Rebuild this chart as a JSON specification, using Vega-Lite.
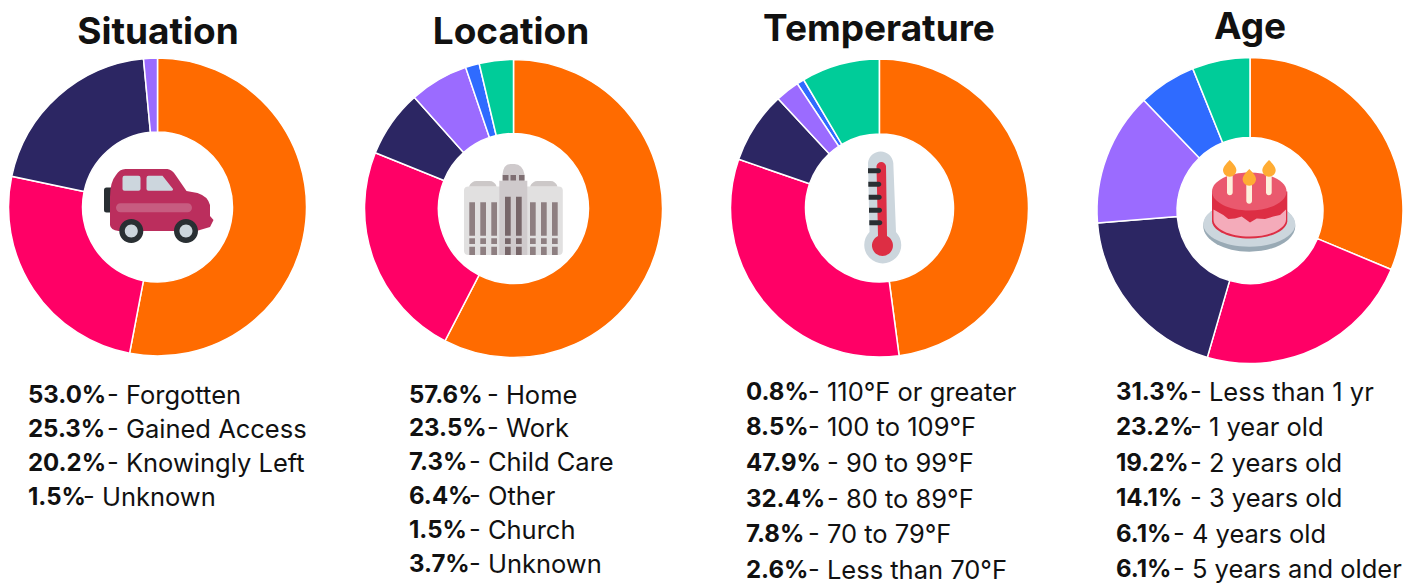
{"$schema":"https://vega.github.io/schema/vega-lite/v6.json","padding":0,"spacing":0,"bounds":"flush","background":"white",
"config":{"view":{"stroke":null},"concat":{"spacing":0},"text":{"font":"Inter","fontSize":25.5,"color":"#111111","align":"left","baseline":"middle"},"arc":{"stroke":"#ffffff","strokeWidth":1.5},"point":{"filled":true,"opacity":1,"size":4,"strokeWidth":0}},
"datasets":{
"situation":[{"slice":1,"line":1,"label":"- Forgotten","share":0.53},{"slice":2,"line":2,"label":"- Gained Access","share":0.253},{"slice":3,"line":3,"label":"- Knowingly Left","share":0.202},{"slice":4,"line":4,"label":"- Unknown","share":0.015}],
"location":[{"slice":1,"line":1,"label":"- Home","share":0.576},{"slice":2,"line":2,"label":"- Work","share":0.235},{"slice":3,"line":3,"label":"- Child Care","share":0.073},{"slice":4,"line":4,"label":"- Other","share":0.064},{"slice":5,"line":5,"label":"- Church","share":0.015},{"slice":6,"line":6,"label":"- Unknown","share":0.037}],
"temperature":[{"slice":5,"line":1,"label":"- 110°F or greater","share":0.008},{"slice":6,"line":2,"label":"- 100 to 109°F","share":0.085},{"slice":1,"line":3,"label":"- 90 to 99°F","share":0.479},{"slice":2,"line":4,"label":"- 80 to 89°F","share":0.324},{"slice":3,"line":5,"label":"- 70 to 79°F","share":0.078},{"slice":4,"line":6,"label":"- Less than 70°F","share":0.026}],
"age":[{"slice":1,"line":1,"label":"- Less than 1 yr","share":0.313},{"slice":2,"line":2,"label":"- 1 year old","share":0.232},{"slice":3,"line":3,"label":"- 2 years old","share":0.192},{"slice":4,"line":4,"label":"- 3 years old","share":0.141},{"slice":5,"line":5,"label":"- 4 years old","share":0.061},{"slice":6,"line":6,"label":"- 5 years and older","share":0.061}]
},
"hconcat":[
{"width":340,"height":583,"data":{"name":"situation"},"layer":[
{"mark":{"type":"arc","outerRadius":149,"innerRadius":75},"encoding":{"x":{"value":157.5},"y":{"value":207},"theta":{"field":"share","type":"quantitative","stack":true},"order":{"field":"slice","type":"ordinal"},"color":{"field":"slice","type":"ordinal","legend":null,"scale":{"domain":[1,2,3,4,5,6],"range":["#FF6B00","#FF0066","#2C2663","#9B6BFF","#2F6BFF","#00CC99"]}}}},
{"data":{"values":[{}]},"encoding":{"x":{"value":157.5},"y":{"value":207}},"layer":[
{"mark":{"type":"point","color":"#292F33","shape":"M-53.5 -17Q-53.5 -19.5 -51 -19.5L-45 -19.5L-45 5.5L-51 5.5Q-53.5 5.5 -53.5 3Z"}},
{"mark":{"type":"point","color":"#BB2E5D","shape":"M-47.5 18L-47.5 -10Q-47.5 -25 -41.5 -32Q-38 -38 -32 -38L10 -38Q15 -37 18 -32L29 -16L40 -14Q50 -11 52.5 -2L52.5 9L56 13L52.5 20L39 24L-39 24Q-47 23 -47.5 18Z"}},
{"mark":{"type":"point","color":"#CCD6DD","shape":"M-35 -29Q-35 -31.3 -33 -31.3L-19 -31.3Q-17 -31.3 -17 -29L-17 -18Q-17 -16.3 -19 -16.3L-33 -16.3Q-35 -16.3 -35 -18ZM-11 -29Q-11 -31.3 -9 -31.3L5 -31.3L15.5 -18Q16 -16.3 14 -16.3L-9 -16.3Q-11 -16.3 -11 -18Z"}},
{"mark":{"type":"point","color":"#C75C80","shape":"M-37 -3.7L30 -3.7A4.5 4.5 0 0 1 30 5.3L-37 5.3A4.5 4.5 0 0 1 -37 -3.7Z"}},
{"mark":{"type":"point","color":"#292F33","shape":"M-38.2 24A12 12 0 1 0 -14.2 24A12 12 0 1 0 -38.2 24ZM16.5 24A12 12 0 1 0 40.5 24A12 12 0 1 0 16.5 24Z"}},
{"mark":{"type":"point","color":"#CCD6DD","shape":"M-32.7 24A6.5 6.5 0 1 0 -19.7 24A6.5 6.5 0 1 0 -32.7 24ZM22 24A6.5 6.5 0 1 0 35 24A6.5 6.5 0 1 0 22 24Z"}}
]},
{"data":{"values":[{"heading":"Situation"}]},"mark":{"type":"text","align":"center","fontSize":37,"fontWeight":"bold"},"encoding":{"x":{"value":158},"y":{"value":32.5},"text":{"field":"heading"}}},
{"mark":{"type":"text","fontWeight":"bold","fontSize":24},"encoding":{"x":{"value":28},"y":{"field":"line","type":"ordinal","axis":null,"scale":{"type":"point","padding":0,"range":[395.5,497.5]}},"text":{"field":"share","format":".1%"}}},
{"transform":[{"filter":"datum.share>=0.1"}],"mark":"text","encoding":{"x":{"value":107},"y":{"field":"line","type":"ordinal"},"text":{"field":"label"}}},
{"transform":[{"filter":"datum.share<0.1"}],"mark":"text","encoding":{"x":{"value":83},"y":{"field":"line","type":"ordinal"},"text":{"field":"label"}}}
]},
{"width":370,"height":583,"data":{"name":"location"},"layer":[
{"mark":{"type":"arc","outerRadius":149,"innerRadius":75},"encoding":{"x":{"value":173.5},"y":{"value":208.5},"theta":{"field":"share","type":"quantitative","stack":true},"order":{"field":"slice","type":"ordinal"},"color":{"field":"slice","type":"ordinal","legend":null,"scale":{"domain":[1,2,3,4,5,6],"range":["#FF6B00","#FF0066","#2C2663","#9B6BFF","#2F6BFF","#00CC99"]}}}},
{"data":{"values":[{}]},"encoding":{"x":{"value":173.5},"y":{"value":208.5}},"layer":[
{"mark":{"type":"point","color":"#E1E0E0","shape":"M-49.5 -18Q-49.5 -22 -45 -22L45 -22Q49.3 -22 49.3 -18L49.3 42Q49.3 46.5 45 46.5L-45 46.5Q-49.5 46.5 -49.5 42Z"}},
{"mark":{"type":"point","color":"#CCC8C8","shape":"M-44.5 -22Q-42 -27.5 -37 -27.5L-24 -27.5Q-19 -27.5 -16.8 -22ZM16.5 -22Q19 -27.5 24 -27.5L37 -27.5Q42 -27.5 44 -22Z"}},
{"mark":{"type":"point","color":"#CFCACC","shape":"M-14.2 -27.8L-11 -27.8L-11 -34Q-10 -44.5 -3 -44.5L1 -44.5Q9 -44.5 11 -34L11 -27.8L13.8 -27.8L13.8 46.5L-14.2 46.5Z"}},
{"mark":{"type":"point","color":"#7E6E72","shape":"M-10.8 -33.5H-5V-28H-10.8ZM-3 -33.5H2.5V-28H-3ZM5.5 -33.5H11V-28H5.5Z"}},
{"mark":{"type":"point","color":"#8E7F81","shape":"M-44.2 -6.2H-38.5V27.2H-44.2ZM-44.2 29.8H-38.5V35.5H-44.2ZM-44.2 38.2H-38.5V46.5H-44.2ZM-33.2 -6.2H-27.5V27.2H-33.2ZM-33.2 29.8H-27.5V35.5H-33.2ZM-33.2 38.2H-27.5V46.5H-33.2ZM-22.2 -6.2H-16.5V27.2H-22.2ZM-22.2 29.8H-16.5V35.5H-22.2ZM-22.2 38.2H-16.5V46.5H-22.2ZM16.5 -6.2H22.2V27.2H16.5ZM16.5 29.8H22.2V35.5H16.5ZM16.5 38.2H22.2V46.5H16.5ZM27.5 -6.2H33.2V27.2H27.5ZM27.5 29.8H33.2V35.5H27.5ZM27.5 38.2H33.2V46.5H27.5ZM38.5 -6.2H44.2V27.2H38.5ZM38.5 29.8H44.2V35.5H38.5ZM38.5 38.2H44.2V46.5H38.5Z"}},
{"mark":{"type":"point","color":"#776669","shape":"M-8.5 -11.8H-2.8V27.2H-8.5ZM-8.5 29.8H-2.8V35.5H-8.5ZM-8.5 38.2H-2.8V46.5H-8.5ZM2.5 -11.8H8.2V27.2H2.5ZM2.5 29.8H8.2V35.5H2.5ZM2.5 38.2H8.2V46.5H2.5Z"}}
]},
{"data":{"values":[{"heading":"Location"}]},"mark":{"type":"text","align":"center","fontSize":37,"fontWeight":"bold"},"encoding":{"x":{"value":171},"y":{"value":32.5},"text":{"field":"heading"}}},
{"mark":{"type":"text","fontWeight":"bold","fontSize":24},"encoding":{"x":{"value":69},"y":{"field":"line","type":"ordinal","axis":null,"scale":{"type":"point","padding":0,"range":[395.5,564.5]}},"text":{"field":"share","format":".1%"}}},
{"transform":[{"filter":"datum.share>=0.1"}],"mark":"text","encoding":{"x":{"value":147},"y":{"field":"line","type":"ordinal"},"text":{"field":"label"}}},
{"transform":[{"filter":"datum.share<0.1"}],"mark":"text","encoding":{"x":{"value":129},"y":{"field":"line","type":"ordinal"},"text":{"field":"label"}}}
]},
{"width":370,"height":583,"data":{"name":"temperature"},"layer":[
{"mark":{"type":"arc","outerRadius":149,"innerRadius":74},"encoding":{"x":{"value":169.5},"y":{"value":208},"theta":{"field":"share","type":"quantitative","stack":true},"order":{"field":"slice","type":"ordinal"},"color":{"field":"slice","type":"ordinal","legend":null,"scale":{"domain":[1,2,3,4,5,6],"range":["#FF6B00","#FF0066","#2C2663","#9B6BFF","#2F6BFF","#00CC99"]}}}},
{"data":{"values":[{}]},"encoding":{"x":{"value":169.5},"y":{"value":208}},"layer":[
{"mark":{"type":"point","color":"#CCD6DD","shape":"M-11.5 -45A12.7 12.7 0 0 1 13.8 -45L16.5 24A18.5 18.5 0 1 1 -10 24Z"}},
{"mark":{"type":"point","color":"#DD2E44","shape":"M-3 -42A4.8 4.8 0 0 1 6.5 -42L7.5 28A10.5 10.5 0 1 1 -1.5 28Z"}},
{"mark":{"type":"point","color":"#292F33","shape":"M-11.5 -39.7H-1A2.5 2.5 0 0 1 -1 -34.7H-11.5ZM-11.2 -26.3H-.7A2.5 2.5 0 0 1 -.7 -21.3H-11.2ZM-10.8 -13.3H-.3A2.5 2.5 0 0 1 -.3 -8.3H-10.8ZM-10.5 -.3H0A2.5 2.5 0 0 1 0 4.7H-10.5ZM-10.2 12.3H.3A2.5 2.5 0 0 1 .3 17.3H-10.2Z"}}
]},
{"data":{"values":[{"heading":"Temperature"}]},"mark":{"type":"text","align":"center","fontSize":37,"fontWeight":"bold"},"encoding":{"x":{"value":169},"y":{"value":29.5},"text":{"field":"heading"}}},
{"mark":{"type":"text","fontWeight":"bold","fontSize":24},"encoding":{"x":{"value":36},"y":{"field":"line","type":"ordinal","axis":null,"scale":{"type":"point","padding":0,"range":[392.5,571]}},"text":{"field":"share","format":".1%"}}},
{"transform":[{"filter":"datum.share>=0.1"}],"mark":"text","encoding":{"x":{"value":117},"y":{"field":"line","type":"ordinal"},"text":{"field":"label"}}},
{"transform":[{"filter":"datum.share<0.1"}],"mark":"text","encoding":{"x":{"value":98},"y":{"field":"line","type":"ordinal"},"text":{"field":"label"}}}
]},
{"width":344,"height":583,"data":{"name":"age"},"layer":[
{"mark":{"type":"arc","outerRadius":153,"innerRadius":73},"encoding":{"x":{"value":170},"y":{"value":210.5},"theta":{"field":"share","type":"quantitative","stack":true},"order":{"field":"slice","type":"ordinal"},"color":{"field":"slice","type":"ordinal","legend":null,"scale":{"domain":[1,2,3,4,5,6],"range":["#FF6B00","#FF0066","#2C2663","#9B6BFF","#2F6BFF","#00CC99"]}}}},
{"data":{"values":[{}]},"encoding":{"x":{"value":170},"y":{"value":210.5}},"layer":[
{"mark":{"type":"point","color":"#99AAB5","shape":"M-46.7 15.5A46 25.7 0 1 0 45.3 15.5A46 25.7 0 1 0 -46.7 15.5Z"}},
{"mark":{"type":"point","color":"#CCD6DD","shape":"M-46.7 13.5A46 22.7 0 1 0 45.3 13.5A46 22.7 0 1 0 -46.7 13.5Z"}},
{"mark":{"type":"point","color":"#DD2E44","shape":"M-38 -19L-38 11A37.7 18 0 0 0 37.3 11L37.3 -19Z"}},
{"mark":{"type":"point","color":"#F4ABBA","shape":"M-36.5 -1L-26.7 4.5L-21.7 8.5L-15 8L-8.3 6L0 12L6.7 8L15 8.5L23.3 6L30 4.5L36 -1L36 9A36.2 17 0 0 1 -36.5 9Z"}},
{"mark":{"type":"point","color":"#EA596E","shape":"M-38 -19A37.3 19 0 1 0 36.6 -19A37.3 19 0 1 0 -38 -19Z"}},
{"mark":{"type":"point","color":"#FDF0DC","shape":"M-23 -37H-17.3V-18A2.8 2.8 0 0 1 -23 -18ZM-3.7 -27H2V-9.5A2.8 2.8 0 0 1 -3.7 -9.5ZM16 -35H21.7V-18A2.8 2.8 0 0 1 16 -18Z"}},
{"mark":{"type":"point","color":"#FFAC33","shape":"M-20.3 -50.5Q-13.6 -44 -13.6 -40.5A6.7 6.7 0 0 1 -27 -40.5Q-27 -44 -20.3 -50.5ZM-.7 -41.5Q6 -35 6 -31.5A6.7 6.7 0 0 1 -7.4 -31.5Q-7.4 -35 -.7 -41.5ZM19 -50.5Q25.7 -44 25.7 -40.5A6.7 6.7 0 0 1 12.3 -40.5Q12.3 -44 19 -50.5Z"}}
]},
{"data":{"values":[{"heading":"Age"}]},"mark":{"type":"text","align":"center","fontSize":37,"fontWeight":"bold"},"encoding":{"x":{"value":170},"y":{"value":27.5},"text":{"field":"heading"}}},
{"mark":{"type":"text","fontWeight":"bold","fontSize":24},"encoding":{"x":{"value":36},"y":{"field":"line","type":"ordinal","axis":null,"scale":{"type":"point","padding":0,"range":[393,570]}},"text":{"field":"share","format":".1%"}}},
{"transform":[{"filter":"datum.share>=0.1"}],"mark":"text","encoding":{"x":{"value":110},"y":{"field":"line","type":"ordinal"},"text":{"field":"label"}}},
{"transform":[{"filter":"datum.share<0.1"}],"mark":"text","encoding":{"x":{"value":93},"y":{"field":"line","type":"ordinal"},"text":{"field":"label"}}}
]}
]}
